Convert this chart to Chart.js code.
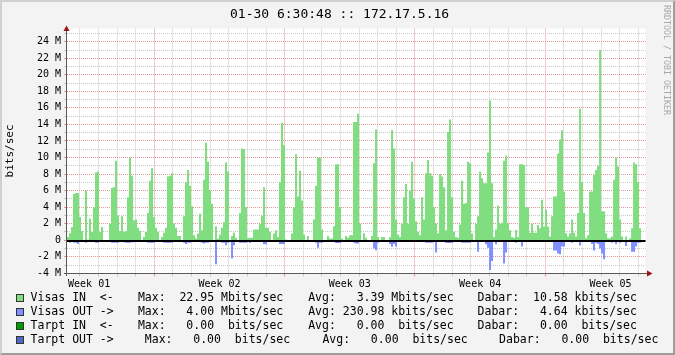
<!DOCTYPE html>
<html>
<head>
<meta charset="utf-8">
<title>172.17.5.16</title>
<script src="https://cdn.jsdelivr.net/npm/chart.js@4/dist/chart.umd.min.js"></script>
<style>
  html, body { margin: 0; padding: 0; }
  body { width: 675px; height: 355px; overflow: hidden; background: #f3f3f3; font-family: "DejaVu Sans Mono", monospace; color: #000; }
  #graph { position: relative; width: 675px; height: 355px; }
  #chart { position: absolute; left: 0; top: 0; }
  #frame { position: absolute; left: 0; top: 0; width: 675px; height: 355px; box-sizing: border-box; pointer-events: none;
           border-top: 2px solid #d0d0d0; border-left: 2px solid #d0d0d0; border-right: 2px solid #9c9c9c; border-bottom: 2px solid #9c9c9c; }
  #title { position: absolute; left: 230px; top: 7px; font-size: 13px; line-height: 13px; white-space: pre; }
  #watermark { position: absolute; left: 662px; top: 5px; font-size: 8.3px; line-height: 9px; color: #a8a8a8; writing-mode: vertical-rl; white-space: pre; }
  .leg { position: absolute; font-size: 11.5px; line-height: 11.5px; white-space: pre; }
  .box { position: absolute; left: 16px; width: 6px; height: 6px; border: 1px solid #333; }
</style>
</head>
<body>
<div id="graph">
  <canvas id="chart" width="675" height="355"></canvas>
  <div id="title">01-30 6:30:48 :: 172.17.5.16</div>
  <div id="watermark">RRDTOOL / TOBI OETIKER</div>
  <div id="legend"></div>
  <div id="frame"></div>
</div>
<script>
// traffic in Mbits/sec, one value per 2.58 h step
const visasIn = [
  0.4, 0.85, 1.6, 5.6, 5.7, 5.7, 2.8, 1.1, 0, 6.0,
  0.1, 2.6, 1.0, 4.0, 8.2, 8.3, 1.0, 1.6, 0, 0,
  0, 2.0, 6.3, 6.4, 9.6, 3.0, 1.1, 2.9, 1.0, 1.1,
  5.2, 10.0, 7.8, 2.4, 2.5, 1.5, 1.1, 0, 0.4, 1.0,
  3.3, 7.2, 8.7, 2.8, 1.5, 1.0, 0, 0.4, 0.9, 1.5,
  7.7, 7.8, 8.1, 2.0, 1.5, 0.5, 0.5, 0, 2.9, 7.0,
  8.5, 6.6, 4.1, 0.6, 0.2, 0.8, 3.2, 1.2, 7.3, 11.8,
  9.5, 6.0, 4.4, 0, 1.7, 0.2, 0.7, 1.5, 2.2, 9.4,
  8.3, 0, 0.5, 0.9, 0.3, 0, 3.3, 11.1, 11.0, 4.0,
  0.25, 0.3, 0.3, 1.3, 1.3, 1.3, 2.0, 3.0, 6.4, 1.5,
  1.5, 1.0, 0, 0.8, 1.2, 0.4, 7.0, 14.2, 11.5, 0.1,
  0, 0, 0.8, 4.0, 10.4, 5.3, 8.4, 4.8, 0.7, 0,
  0.5, 0, 0, 2.5, 6.6, 10.0, 10.0, 1.3, 0, 0,
  0.5, 0.2, 0.2, 1.7, 9.2, 9.2, 4.0, 0.2, 0, 0.5,
  0.3, 0.6, 0.6, 14.3, 14.3, 15.3, 2.0, 0, 0.85, 0.3,
  0, 0, 0.5, 9.3, 13.4, 0.4, 0, 0.4, 0.4, 0,
  0, 0.4, 13.3, 11.1, 2.5, 0.7, 0.4, 2.0, 5.2, 6.8,
  2.0, 6.0, 9.5, 5.0, 2.3, 1.0, 0.6, 5.2, 2.5, 8.1,
  9.7, 8.1, 7.8, 4.0, 2.0, 0.85, 8.0, 7.7, 6.4, 1.2,
  13.1, 14.6, 5.2, 1.0, 0.4, 0.3, 1.9, 7.2, 4.4, 4.5,
  9.5, 9.3, 0.8, 0, 2.0, 2.9, 8.3, 7.5, 6.9, 6.9,
  10.6, 16.9, 6.9, 0.4, 1.3, 4.2, 2.0, 2.1, 9.6, 10.2,
  2.0, 1.2, 0.4, 0.3, 1.25, 0.4, 9.2, 9.2, 9.1, 4.0,
  4.0, 0.9, 2.0, 0.9, 0.9, 1.85, 1.45, 4.9, 1.65, 3.7,
  1.65, 0.45, 2.9, 5.3, 5.3, 10.5, 12.2, 13.3, 5.9, 0.85,
  0.45, 0.85, 2.5, 0.9, 0.45, 3.3, 15.9, 7.0, 3.3, 0.25,
  0.6, 5.9, 5.9, 7.9, 8.5, 9.0, 23.0, 3.5, 3.5, 0.85,
  0.25, 0.25, 0.45, 7.3, 10.0, 8.9, 2.5, 0.45, 0, 0.45,
  0, 0.25, 1.45, 9.4, 9.2, 7.0, 1.45
];
const visasOut = [
  0.1, 0.3, 0.2, 0.3, 0.3, 0.45, 0.2, 0, 0, 0.3,
  0, 0.2, 0.2, 0.2, 0.3, 0.3, 0.2, 0.1, 0, 0,
  0.1, 0.2, 0.3, 0.3, 0.3, 0.3, 0.1, 0.1, 0.25, 0.3,
  0.3, 0.3, 0.25, 0.25, 0.2, 0.1, 0, 0, 0.1, 0.2,
  0.3, 0.3, 0.3, 0.3, 0.2, 0.1, 0, 0.1, 0.3, 0.3,
  0.3, 0.3, 0.3, 0.1, 0.1, 0, 0, 0, 0.3, 0.45,
  0.3, 0.3, 0.2, 0, 0, 0.1, 0.1, 0.3, 0.4, 0.3,
  0.3, 0.2, 0.1, 0, 2.9, 0, 0.1, 0.3, 0.3, 0.6,
  0.3, 0, 2.2, 0.6, 0, 0, 0.3, 0.3, 0.3, 0.3,
  0.1, 0.35, 0.1, 0.1, 0.1, 0.1, 0.1, 0.2, 0.5, 0.5,
  0.2, 0.1, 0, 0.1, 0.1, 0, 0.45, 0.45, 0.45, 0,
  0, 0, 0.1, 0.2, 0.2, 0.2, 0.2, 0.2, 0.2, 0,
  0, 0, 0, 0.1, 0.3, 0.9, 0.3, 0.3, 0, 0,
  0.1, 0, 0, 0.1, 0.35, 0.35, 0.35, 0, 0, 0,
  0.1, 0, 0.1, 0.3, 0.4, 0.4, 0.1, 0, 0.1, 0,
  0, 0, 0.1, 1.0, 1.2, 0.3, 0, 0, 0.1, 0,
  0, 0.45, 0.8, 0.45, 0.75, 0.1, 0, 0.2, 0.2, 0.2,
  0.2, 0.2, 0.2, 0.2, 0.2, 0.1, 0, 0.1, 0.1, 0.3,
  0.3, 0.3, 0.3, 0.1, 1.5, 0, 0.15, 0.15, 0.15, 0.35,
  0.35, 0.35, 0.35, 0.1, 0, 0, 0.1, 0.3, 0.3, 0.3,
  0.3, 0.3, 0.2, 0, 0.1, 1.4, 0.2, 0.1, 0.2, 0.5,
  0.9, 3.6, 2.5, 0.1, 0.5, 0.2, 0.1, 0.2, 2.8, 1.5,
  0.2, 0.1, 0, 0, 0.3, 0.1, 0.2, 0.75, 0.2, 0.15,
  0.15, 0, 0.1, 0, 0.2, 0.2, 0.2, 0.2, 0.2, 0.1,
  0.1, 0, 0.2, 1.25, 1.25, 1.6, 1.7, 0.75, 0.75, 0.1,
  0, 0.1, 0.3, 0.2, 0.2, 0.2, 0.65, 0.2, 0.2, 0,
  0.1, 0.2, 0.45, 1.25, 0.3, 0.45, 1.0, 1.6, 2.3, 0.1,
  0, 0, 0.3, 0.2, 0.45, 0.2, 0.3, 0, 0, 0.7,
  0, 0.1, 1.4, 1.4, 0.75, 0.3, 0.3
];
const stepHours = 2.578;      // width of one sample
const spanHours = 745.6;      // whole time axis
const firstMidnight = 16.5;   // hours after the left edge
const weekLabels = ['Week 01', 'Week 02', 'Week 03', 'Week 04', 'Week 05'];
const yMin = -4, yMax = 25.6;

const legendNames = ['Visas IN  <-', 'Visas OUT ->', 'Tarpt IN  <-', 'Tarpt OUT ->'];
const legendColors = ['#80dd80', '#8090ff', '#009c00', '#4f68c4'];
const legendMax = ['Max:  22.95 Mbits/sec', 'Max:   4.00 Mbits/sec', 'Max:   0.00  bits/sec', 'Max:   0.00  bits/sec'];
const legendAvg = ['Avg:   3.39 Mbits/sec', 'Avg: 230.98 kbits/sec', 'Avg:   0.00  bits/sec', 'Avg:   0.00  bits/sec'];
const legendNow = ['Dabar:  10.58 kbits/sec', 'Dabar:   4.64 kbits/sec', 'Dabar:   0.00  bits/sec', 'Dabar:   0.00  bits/sec'];

const FONT = 'DejaVu Sans Mono';
const minorGrid = '#c8c8c8';
const majorGrid = '#e49494';

// x ticks: a grid line every midnight, week labels in the middle of each week
const midnights = [];
for (let h = firstMidnight; h < spanHours; h += 24) midnights.push(h);
const weekStarts = midnights.filter((h, i) => i % 7 === 4);
const weekCentres = weekLabels.map((l, w) => weekStarts[0] + (w - 1) * 168 + 84);
const xTicks = midnights.concat(weekCentres).sort((a, b) => a - b);
const yTicks = [];
for (let v = yMin; v <= Math.floor(yMax); v++) yTicks.push(v);

function steps(values, sign) {
  const pts = values.map((v, i) => ({x: i * stepHours, y: sign * v}));
  pts.push({x: values.length * stepHours, y: sign * values[values.length - 1]});
  return pts;
}

function xGridColor(c) {
  const v = c.tick.value;
  if (weekCentres.includes(v)) return 'rgba(0,0,0,0)';
  return weekStarts.includes(v) ? majorGrid : minorGrid;
}

const rrdFrame = {
  id: 'rrdFrame',
  beforeDraw(chart) {
    const {ctx, chartArea: a} = chart;
    ctx.save();
    ctx.fillStyle = '#ffffff';
    ctx.fillRect(a.left, a.top, a.right - a.left, a.bottom - a.top);
    ctx.restore();
  },
  afterDatasetsDraw(chart) {
    const {ctx, chartArea: a} = chart;
    const y0 = Math.floor(chart.scales.y.getPixelForValue(0));
    ctx.save();
    ctx.fillStyle = '#000';
    ctx.fillRect(a.left, y0, a.right - a.left, 2);
    ctx.restore();
  },
  afterDraw(chart) {
    const {ctx, chartArea: a} = chart;
    const ax = Math.round(a.left) - 1;
    const ay = Math.floor(a.bottom);
    ctx.save();
    ctx.fillStyle = '#5a5a5a';
    ctx.fillRect(ax, a.top + 2, 1, ay + 3 - (a.top + 2));
    ctx.fillRect(ax - 2, ay, a.right + 2 - (ax - 2), 1);
    ctx.fillStyle = '#9a1414';
    ctx.beginPath();
    ctx.moveTo(ax + 0.5, a.top - 3);
    ctx.lineTo(ax + 3.5, a.top + 2.5);
    ctx.lineTo(ax - 2.5, a.top + 2.5);
    ctx.closePath();
    ctx.fill();
    ctx.beginPath();
    ctx.moveTo(a.right + 7, ay + 0.5);
    ctx.lineTo(a.right + 1.5, ay - 2.5);
    ctx.lineTo(a.right + 1.5, ay + 3.5);
    ctx.closePath();
    ctx.fill();
    ctx.restore();
  }
};

new Chart(document.getElementById('chart'), {
  type: 'line',
  data: {
    datasets: [{
      label: 'Visas IN',
      data: steps(visasIn, 1),
      stepped: true,
      fill: 'origin',
      backgroundColor: legendColors[0],
      borderColor: 'rgba(0,0,0,0)',
      borderWidth: 0,
      pointRadius: 0
    }, {
      label: 'Visas OUT',
      data: steps(visasOut, -1),
      stepped: true,
      fill: 'origin',
      backgroundColor: legendColors[1],
      borderColor: 'rgba(0,0,0,0)',
      borderWidth: 0,
      pointRadius: 0
    }]
  },
  options: {
    responsive: false,
    animation: false,
    devicePixelRatio: 1,
    layout: {padding: {left: 0, right: 29.5, top: 28.5, bottom: 0}},
    plugins: {legend: {display: false}, tooltip: {enabled: false}},
    scales: {
      x: {
        type: 'linear',
        min: 0,
        max: spanHours,
        afterBuildTicks: s => { s.ticks = xTicks.map(v => ({value: v})); },
        afterFit: s => { s.height = 355 - 273.3; },
        ticks: {
          autoSkip: false, maxRotation: 0, minRotation: 0, padding: 2, color: '#000',
          font: {family: FONT, size: 10},
          callback: v => {
            const w = weekCentres.indexOf(v);
            return w < 0 ? '' : weekLabels[w];
          }
        },
        grid: {color: xGridColor, tickLength: 3, lineWidth: 1},
        border: {display: false, dash: [1, 1]}
      },
      y: {
        type: 'linear',
        min: yMin,
        max: yMax,
        afterBuildTicks: s => { s.ticks = yTicks.map(v => ({value: v})); },
        afterFit: s => { s.width = 67; },
        ticks: {
          autoSkip: false, padding: 3, color: '#000',
          font: {family: FONT, size: 10},
          callback: v => (v % 2 ? '' : (v === 0 ? '0' : v + ' M'))
        },
        grid: {color: c => (c.tick.value % 2 ? minorGrid : majorGrid), tickLength: 3, lineWidth: 1},
        border: {display: false, dash: [1, 1]},
        title: {display: true, text: 'bits/sec', color: '#000', font: {family: FONT, size: 11}, padding: {top: 4, bottom: 0}}
      }
    }
  },
  plugins: [rrdFrame]
});

// legend lines, laid out like the rrdtool legend
const legend = document.getElementById('legend');
const colX = [[30.6, 137.9, 308.2, 477.6], [30.6, 137.9, 308.2, 477.6], [30.6, 137.9, 308.2, 477.6], [30.6, 144.8, 322.4, 499.1]];
legendNames.forEach((name, i) => {
  const top = 292.4 + i * 14;
  const box = document.createElement('div');
  box.className = 'box';
  box.style.top = (294 + i * 14) + 'px';
  box.style.background = legendColors[i];
  legend.appendChild(box);
  [name, legendMax[i], legendAvg[i], legendNow[i]].forEach((text, j) => {
    const span = document.createElement('div');
    span.className = 'leg';
    span.style.left = colX[i][j] + 'px';
    span.style.top = top + 'px';
    span.textContent = text;
    legend.appendChild(span);
  });
});
</script>
</body>
</html>
